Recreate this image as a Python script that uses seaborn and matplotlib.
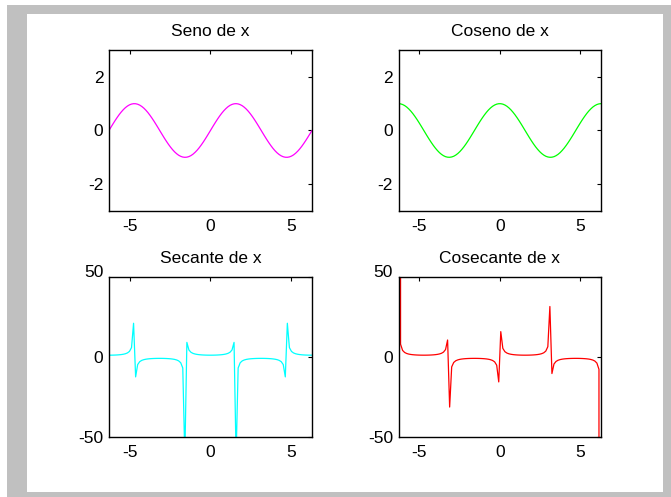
import matplotlib
matplotlib.use("Agg")
import matplotlib.pyplot as plt
from matplotlib.patches import Rectangle
import seaborn as sns

# sample points (100 samples from -2pi to 2pi)
x = [-6.283, -6.156, -6.029, -5.902, -5.775, -5.649, -5.522, -5.395, -5.268, -5.141,
     -5.014, -4.887, -4.760, -4.633, -4.506, -4.379, -4.252, -4.125, -3.998, -3.871,
     -3.745, -3.618, -3.491, -3.364, -3.237, -3.110, -2.983, -2.856, -2.729, -2.602,
     -2.475, -2.348, -2.221, -2.094, -1.967, -1.841, -1.714, -1.587, -1.460, -1.333,
     -1.206, -1.079, -0.952, -0.825, -0.698, -0.571, -0.444, -0.317, -0.190, -0.063,
     0.063, 0.190, 0.317, 0.444, 0.571, 0.698, 0.825, 0.952, 1.079, 1.206,
     1.333, 1.460, 1.587, 1.714, 1.841, 1.967, 2.094, 2.221, 2.348, 2.475,
     2.602, 2.729, 2.856, 2.983, 3.110, 3.237, 3.364, 3.491, 3.618, 3.745,
     3.871, 3.998, 4.125, 4.252, 4.379, 4.506, 4.633, 4.760, 4.887, 5.014,
     5.141, 5.268, 5.395, 5.522, 5.649, 5.775, 5.902, 6.029, 6.156, 6.283]

seno = [0.000, 0.127, 0.251, 0.372, 0.486, 0.593, 0.690, 0.776, 0.850, 0.910,
        0.955, 0.985, 0.999, 0.997, 0.979, 0.945, 0.896, 0.833, 0.756, 0.667,
        0.567, 0.458, 0.342, 0.220, 0.095, -0.032, -0.158, -0.282, -0.401, -0.514,
        -0.618, -0.713, -0.796, -0.866, -0.923, -0.963, -0.990, -1.000, -0.994, -0.972,
        -0.935, -0.882, -0.814, -0.735, -0.643, -0.541, -0.430, -0.312, -0.189, -0.063,
        0.063, 0.189, 0.312, 0.430, 0.541, 0.643, 0.735, 0.814, 0.882, 0.935,
        0.972, 0.994, 1.000, 0.990, 0.963, 0.923, 0.866, 0.796, 0.713, 0.618,
        0.514, 0.401, 0.282, 0.158, 0.032, -0.095, -0.220, -0.342, -0.458, -0.567,
        -0.667, -0.756, -0.833, -0.896, -0.945, -0.979, -0.997, -0.999, -0.985, -0.955,
        -0.910, -0.850, -0.776, -0.690, -0.593, -0.486, -0.372, -0.251, -0.127, 0.000]

coseno = [1.000, 0.992, 0.968, 0.928, 0.874, 0.805, 0.724, 0.631, 0.527, 0.416,
          0.297, 0.174, 0.048, -0.079, -0.205, -0.327, -0.444, -0.554, -0.655, -0.745,
          -0.824, -0.889, -0.940, -0.976, -0.995, -0.999, -0.987, -0.960, -0.916, -0.858,
          -0.786, -0.701, -0.606, -0.500, -0.386, -0.267, -0.142, -0.016, 0.111, 0.236,
          0.357, 0.472, 0.580, 0.678, 0.766, 0.841, 0.903, 0.950, 0.982, 0.998,
          0.998, 0.982, 0.950, 0.903, 0.841, 0.766, 0.678, 0.580, 0.472, 0.357,
          0.236, 0.111, -0.016, -0.142, -0.267, -0.386, -0.500, -0.606, -0.701, -0.786,
          -0.858, -0.916, -0.960, -0.987, -0.999, -0.995, -0.976, -0.940, -0.889, -0.824,
          -0.745, -0.655, -0.554, -0.444, -0.327, -0.205, -0.079, 0.048, 0.174, 0.297,
          0.416, 0.527, 0.631, 0.724, 0.805, 0.874, 0.928, 0.968, 0.992, 1.000]

secante = [1.000, 1.008, 1.033, 1.077, 1.144, 1.242, 1.382, 1.586, 1.897, 2.407,
           3.368, 5.759, 21.02, -12.62, -4.883, -3.057, -2.252, -1.805, -1.527, -1.342,
           -1.214, -1.125, -1.064, -1.025, -1.005, -1.001, -1.013, -1.042, -1.092, -1.166,
           -1.272, -1.426, -1.651, -2.000, -2.588, -3.753, -7.027, -63.03, 9.022, 4.242,
           2.802, 2.117, 1.724, 1.474, 1.305, 1.189, 1.108, 1.053, 1.018, 1.002,
           1.002, 1.018, 1.053, 1.108, 1.189, 1.305, 1.474, 1.724, 2.117, 2.802,
           4.242, 9.022, -63.03, -7.027, -3.753, -2.588, -2.000, -1.651, -1.426, -1.272,
           -1.166, -1.092, -1.042, -1.013, -1.001, -1.005, -1.025, -1.064, -1.125, -1.214,
           -1.342, -1.527, -1.805, -2.252, -3.057, -4.883, -12.62, 21.02, 5.759, 3.368,
           2.407, 1.897, 1.586, 1.382, 1.242, 1.144, 1.077, 1.033, 1.008, 1.000]

cosecante = [4.083e15, 7.899, 3.982, 2.691, 2.057, 1.687, 1.449, 1.288, 1.177, 1.099,
             1.047, 1.015, 1.001, 1.003, 1.022, 1.058, 1.116, 1.201, 1.323, 1.500,
             1.763, 2.182, 2.924, 4.539, 10.52, -31.52, -6.329, -3.549, -2.494, -1.947,
             -1.618, -1.403, -1.257, -1.155, -1.084, -1.038, -1.010, -1.000, -1.006, -1.029,
             -1.070, -1.134, -1.228, -1.361, -1.556, -1.850, -2.327, -3.205, -5.284, -15.77,
             15.77, 5.284, 3.205, 2.327, 1.850, 1.556, 1.361, 1.228, 1.134, 1.070,
             1.029, 1.006, 1.000, 1.010, 1.038, 1.084, 1.155, 1.257, 1.403, 1.618,
             1.947, 2.494, 3.549, 6.329, 31.52, -10.52, -4.539, -2.924, -2.182, -1.763,
             -1.500, -1.323, -1.201, -1.116, -1.058, -1.022, -1.003, -1.001, -1.015, -1.047,
             -1.099, -1.177, -1.288, -1.449, -1.687, -2.057, -2.691, -3.982, -7.899, -4.083e15]

titles = ["Seno de x", "Coseno de x", "Secante de x", "Cosecante de x"]
colores = ["#ff00ff", "#00ff00", "#00ffff", "#ff0000"]
limites_y = [(-3, 3), (-3, 3), (-50, 50), (-50, 50)]
ticks_y = [[-2, 0, 2], [-2, 0, 2], [-50, 0, 50], [-50, 0, 50]]
ticks_x = [-5, 0, 5]

sns.set_style("white")
plt.rcParams['font.family'] = ['Liberation Sans', 'DejaVu Sans']
plt.rcParams['font.size'] = 12.5
plt.rcParams['axes.unicode_minus'] = False
plt.rcParams['text.color'] = 'black'

fig = plt.figure(figsize=(6.71, 4.97), dpi=100)
fig.patch.set_facecolor("white")

# grey frame + white inner area (like a MATLAB figure window)
fig.patches.append(Rectangle((7/671, 0), 664/671, 492/497, transform=fig.transFigure,
                             facecolor="#c0c0c0", edgecolor="none", zorder=-2))
fig.patches.append(Rectangle((27/671, 5/497), 636/671, 478/497, transform=fig.transFigure,
                             facecolor="white", edgecolor="none", zorder=-1))

# axes positions [left, bottom, width, height]
posiciones = [[0.1624, 0.5755, 0.3025, 0.3239],
              [0.5939, 0.5755, 0.3018, 0.3239],
              [0.1624, 0.1217, 0.3025, 0.3209],
              [0.5939, 0.1217, 0.3018, 0.3209]]

series = [seno, coseno, secante, cosecante]

for i, (pos, y, titulo, color, ylim, yt) in enumerate(zip(posiciones, series, titles, colores, limites_y, ticks_y)):
    ax = fig.add_axes(pos)
    sns.lineplot(x=x, y=y, ax=ax, color=color, linewidth=0.9, sort=False)
    ax.set_xlim(x[0], x[-1])
    ax.set_ylim(*ylim)
    ax.set_xticks(ticks_x)
    ax.set_yticks(yt)
    ax.set_title(titulo, fontsize=12.5, pad=10, color='black')
    ax.tick_params(direction='in', top=True, right=True, length=3, width=0.8,
                   labelsize=12.5, pad=6, colors='black')
    ax.tick_params(axis='y', pad=4)
    if i >= 2:
        # the top "50" label sits on its baseline like in the original
        ax.get_yticklabels()[-1].set_va('baseline')
    for s in ax.spines.values():
        s.set_color('black')
        s.set_linewidth(1.0)
    ax.set_facecolor('white')

fig.savefig("out.png", dpi=100)
